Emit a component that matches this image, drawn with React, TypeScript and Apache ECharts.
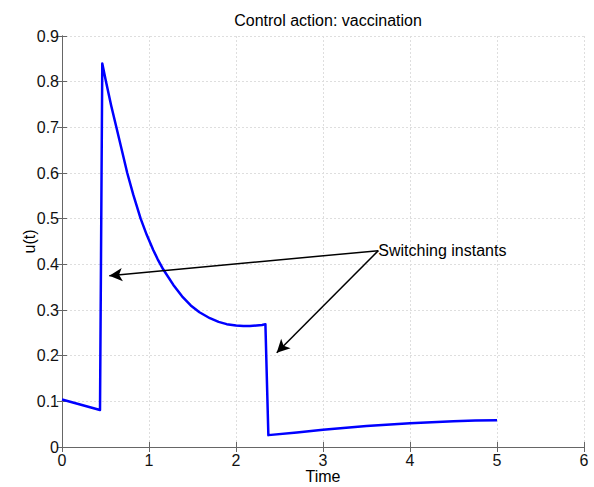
import React, { useEffect, useRef } from "react";
import * as echarts from "echarts";

const tValues = [0, 0.437, 0.463, 0.506, 0.565, 0.625, 0.69, 0.75, 0.82, 0.904, 0.975, 1.05, 1.10, 1.157, 1.28, 1.38, 1.48, 1.58, 1.70, 1.80, 1.893, 2.0, 2.084, 2.16, 2.237, 2.30, 2.338, 2.372, 2.70, 3.0, 3.5, 4.0, 4.5, 4.75, 5.0];
const uValues = [0.104, 0.081, 0.840, 0.800, 0.748, 0.700, 0.648, 0.600, 0.552, 0.500, 0.464, 0.431, 0.411, 0.391, 0.355, 0.330, 0.310, 0.295, 0.282, 0.274, 0.269, 0.266, 0.265, 0.265, 0.266, 0.267, 0.269, 0.026, 0.032, 0.038, 0.046, 0.052, 0.0565, 0.058, 0.0585];

const annotationText = "Switching instants";
const annotationFrom = [3.636, 0.430];
const arrowTips = [
  [0.544, 0.375],
  [2.468, 0.2065],
];

const titleText = "Control action: vaccination";
const xName = "Time";
const yName = "u(t)";

export default function App() {
  const ref = useRef<HTMLDivElement>(null);
  useEffect(() => {
    if (!ref.current) return;
    const chart = echarts.init(ref.current, undefined, { renderer: "svg" });
    const font = "'Liberation Sans', Arial, sans-serif";
    const fs = 16;
    const axisColor = "#666";
    const gridLine = { show: true, lineStyle: { color: "#dedede", type: [2, 2], width: 1 } };
    const data = tValues.map((t, i) => [t, uValues[i]]);
    chart.setOption({
      animation: false,
      backgroundColor: "#fff",
      title: {
        text: titleText,
        left: 323,
        top: 7,
        textAlign: "center",
        textStyle: { fontFamily: font, fontSize: fs, fontWeight: "normal", color: "#000" },
      },
      grid: { left: 62, right: 10, top: 36, bottom: 40, containLabel: false, outerBoundsMode: "none" },
      xAxis: [
        {
          type: "value",
          min: 0,
          max: 6,
          interval: 1,
          name: xName,
          nameLocation: "middle",
          nameGap: 21,
          nameMoveOverlap: false,
          nameTextStyle: { fontFamily: font, fontSize: fs, color: "#000", lineHeight: 16 },
          axisLine: { show: true, lineStyle: { color: axisColor } },
          axisTick: { show: true, inside: true, length: 5, lineStyle: { color: axisColor } },
          axisLabel: { fontFamily: font, fontSize: fs, color: "#111", margin: 5 },
          splitLine: gridLine,
        },
        {
          type: "value",
          position: "top",
          min: 0,
          max: 6,
          interval: 1,
          axisLine: { show: true, lineStyle: { color: axisColor } },
          axisTick: { show: true, inside: true, length: 5, lineStyle: { color: axisColor } },
          axisLabel: { show: false },
          splitLine: { show: false },
        },
      ],
      yAxis: [
        {
          type: "value",
          min: 0,
          max: 0.9,
          interval: 0.1,
          name: yName,
          nameLocation: "middle",
          nameGap: 25,
          nameMoveOverlap: false,
          nameTextStyle: { fontFamily: font, fontSize: fs, color: "#000" },
          axisLine: { show: true, lineStyle: { color: axisColor } },
          axisTick: { show: true, inside: true, length: 5, lineStyle: { color: axisColor } },
          axisLabel: {
            fontFamily: font,
            fontSize: fs,
            color: "#111",
            margin: 3,
            formatter: (v: number) => String(+v.toFixed(1)),
          },
          splitLine: gridLine,
        },
        {
          type: "value",
          position: "right",
          min: 0,
          max: 0.9,
          interval: 0.1,
          axisLine: { show: true, lineStyle: { color: axisColor } },
          axisTick: { show: true, inside: true, length: 5, lineStyle: { color: axisColor } },
          axisLabel: { show: false },
          splitLine: { show: false },
        },
      ],
      series: [
        {
          type: "line",
          data,
          xAxisIndex: 0,
          yAxisIndex: 0,
          showSymbol: false,
          symbol: "none",
          lineStyle: { color: "#0000ff", width: 2.5, join: "round" },
          markLine: {
            silent: true,
            symbol: ["none", "arrow"],
            symbolSize: [10, 13],
            label: { show: false },
            lineStyle: { color: "#000", width: 1.5, type: "solid" },
            data: arrowTips.map((tip) => [
              { coord: annotationFrom },
              { coord: tip },
            ]),
          },
          markPoint: {
            silent: true,
            symbol: "circle",
            symbolSize: 0,
            data: [
              {
                coord: annotationFrom,
                label: {
                  show: true,
                  position: "right",
                  distance: 0,
                  formatter: annotationText,
                  fontFamily: font,
                  fontSize: fs,
                  color: "#000",
                },
              },
            ],
          },
        },
      ],
    });
    return () => chart.dispose();
  }, []);
  return (
    <div
      ref={ref}
      style={{ position: "fixed", left: 0, top: 0, width: 594, height: 487 }}
    />
  );
}
